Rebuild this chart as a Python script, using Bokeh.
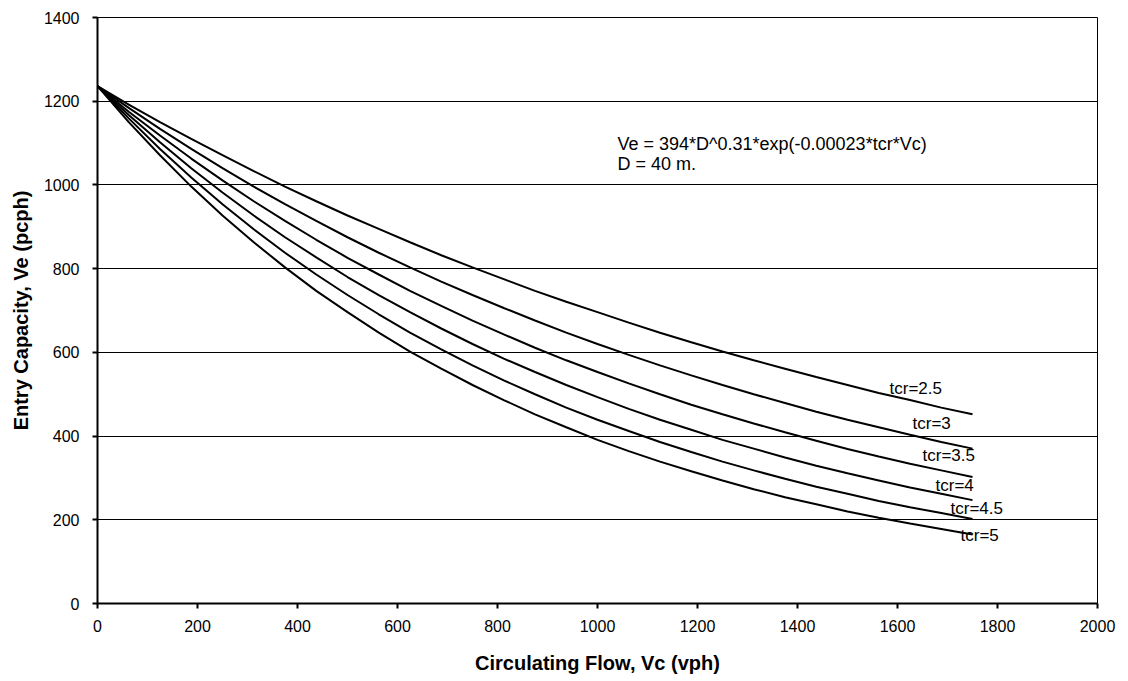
from bokeh.plotting import figure
from bokeh.models import Label, FixedTicker
from bokeh.embed import file_html
from bokeh.resources import INLINE

# Circulating flow (vph)
vc = [0, 62.5, 125, 187.5, 250, 312.5, 375, 437.5, 500, 562.5, 625, 687.5, 750, 812.5,
      875, 937.5, 1000, 1062.5, 1125, 1187.5, 1250, 1312.5, 1375, 1437.5, 1500, 1562.5,
      1625, 1687.5, 1750]

# Entry capacity (pcph)
ve_tcr_2_5 = [1236, 1192, 1150, 1110, 1071, 1033, 996, 961, 927, 895, 863, 832, 803, 775,
              747, 721, 696, 671, 647, 624, 602, 581, 561, 541, 522, 503, 486, 468, 452]
ve_tcr_3 = [1236, 1184, 1134, 1086, 1040, 996, 954, 914, 875, 838, 803, 769, 737, 706,
            676, 647, 620, 594, 569, 545, 522, 500, 479, 458, 439, 421, 403, 386, 370]
ve_tcr_3_5 = [1236, 1175, 1118, 1063, 1011, 961, 914, 869, 826, 786, 747, 711, 676, 643,
              611, 581, 553, 526, 500, 475, 452, 430, 409, 389, 369, 351, 334, 318, 302]
ve_tcr_4 = [1236, 1167, 1102, 1040, 982, 927, 875, 827, 780, 737, 696, 657, 620, 585,
            553, 522, 493, 465, 439, 415, 391, 370, 349, 329, 311, 294, 277, 262, 247]
ve_tcr_4_5 = [1236, 1159, 1086, 1018, 954, 894, 838, 786, 737, 691, 647, 607, 569, 533,
              500, 468, 439, 412, 386, 362, 339, 318, 298, 279, 262, 245, 230, 216, 202]
ve_tcr_5 = [1236, 1150, 1071, 996, 927, 863, 803, 747, 696, 647, 602, 561, 522, 486,
            452, 421, 391, 364, 339, 316, 294, 273, 254, 237, 220, 205, 191, 178, 165]

series_labels = ["tcr=2.5", "tcr=3", "tcr=3.5", "tcr=4", "tcr=4.5", "tcr=5"]
series = [ve_tcr_2_5, ve_tcr_3, ve_tcr_3_5, ve_tcr_4, ve_tcr_4_5, ve_tcr_5]

x_ticks = [0, 200, 400, 600, 800, 1000, 1200, 1400, 1600, 1800, 2000]
y_ticks = [0, 200, 400, 600, 800, 1000, 1200, 1400]

FONT = "Liberation Sans"

p = figure(width=1128, height=681, output_backend="svg", toolbar_location=None,
           x_range=(0, 2000), y_range=(0, 1400),
           min_border_left=97, min_border_right=31, min_border_top=17, min_border_bottom=78)
p.background_fill_color = "white"
p.border_fill_color = "white"
p.outline_line_color = "black"
p.outline_line_width = 1

for ys in series:
    p.line(vc, ys, line_color="black", line_width=2)

# label placement (screen-derived positions in data units)
label_pos = [(1584, 513), (1630, 430), (1650, 353), (1676, 282), (1706, 227), (1726, 162)]
for txt, (lx, ly) in zip(series_labels, label_pos):
    p.add_layout(Label(x=lx, y=ly, text=txt, text_font=FONT, text_font_size="17px",
                       text_baseline="middle", text_align="left", text_color="black"))

p.add_layout(Label(x=1040, y=1098, text="Ve = 394*D^0.31*exp(-0.00023*tcr*Vc)", text_font=FONT,
                   text_font_size="18px", text_baseline="middle", text_color="black"))
p.add_layout(Label(x=1040, y=1050, text="D = 40 m.", text_font=FONT,
                   text_font_size="18px", text_baseline="middle", text_color="black"))

p.xgrid.visible = False
p.ygrid.grid_line_color = "black"
p.ygrid.grid_line_width = 1
p.ygrid.ticker = FixedTicker(ticks=y_ticks)

for ax in (p.xaxis[0], p.yaxis[0]):
    ax.axis_line_color = "black"
    ax.axis_line_width = 2
    ax.major_tick_line_color = "black"
    ax.major_tick_line_width = 2
    ax.major_tick_out = 5
    ax.major_tick_in = 0
    ax.minor_tick_line_color = None
    ax.major_label_text_font = FONT
    ax.major_label_text_font_size = "16px"
    ax.major_label_text_color = "black"
    ax.axis_label_text_font = FONT
    ax.axis_label_text_font_size = "20px"
    ax.axis_label_text_font_style = "bold"
    ax.axis_label_text_color = "black"

p.xaxis.ticker = FixedTicker(ticks=x_ticks)
p.yaxis.ticker = FixedTicker(ticks=y_ticks)
p.xaxis.axis_label = "Circulating Flow, Vc (vph)"
p.yaxis.axis_label = "Entry Capacity, Ve (pcph)"
p.xaxis.major_label_standoff = 11
p.yaxis.major_label_standoff = 13
p.xaxis.axis_label_standoff = 17
p.yaxis.axis_label_standoff = 9

open("out.html", "w").write(file_html(p, INLINE))
